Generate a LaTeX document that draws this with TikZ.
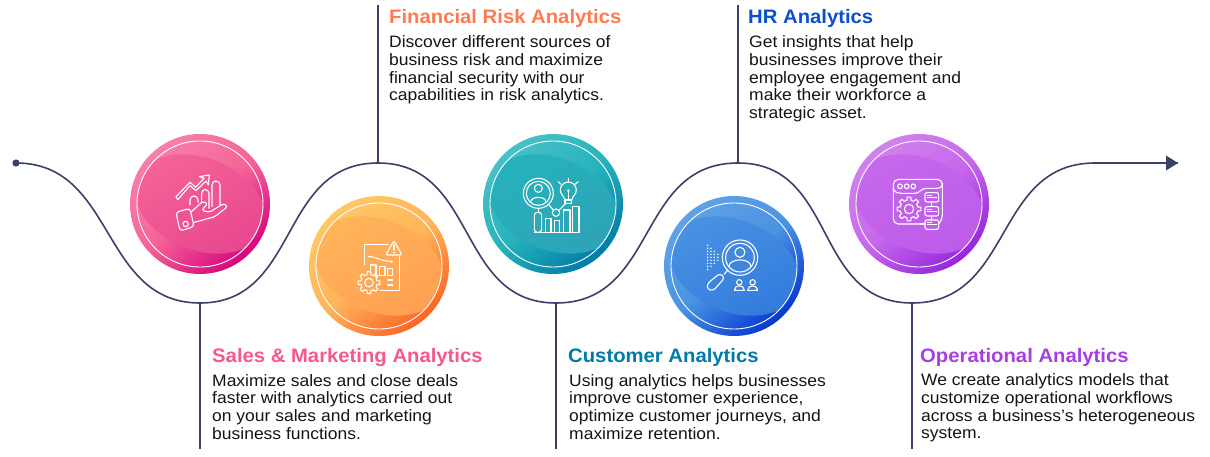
\documentclass[tikz,border=0pt]{standalone}
\usepackage{fontspec}
\setmainfont{Liberation Sans}[FakeStretch=1.06]
\newfontfamily\headfont{Liberation Sans}[FakeStretch=1.04]
\usetikzlibrary{arrows.meta}
\definecolor{linecol}{HTML}{3A4068}
\definecolor{bodycol}{HTML}{141414}
\definecolor{hsales}{HTML}{F4588E}
\definecolor{hfin}{HTML}{FF7A50}
\definecolor{hcust}{HTML}{007BA7}
\definecolor{hhr}{HTML}{0B4FD0}
\definecolor{hops}{HTML}{A83DE0}
\tikzset{
  wave/.style={draw=linecol,line width=1.6pt},
  stem/.style={draw=linecol,line width=1.6pt},
  icon/.style={draw=white,line width=1.1pt,line join=round,line cap=round},
  heading/.style={anchor=base west,inner sep=0pt,font=\headfont\fontsize{19.5}{22}\selectfont\bfseries},
  body/.style={anchor=north west,inner sep=0pt,align=left,text=bodycol,font=\fontsize{16.5}{17.6}\selectfont},
}
% \badge{name}{x}{y}{rim light}{rim dark}{lens light}{lens dark}
\newcommand{\badge}[7]{%
  \definecolor{bA}{HTML}{#4}\definecolor{bB}{HTML}{#5}\definecolor{bC}{HTML}{#6}\definecolor{bD}{HTML}{#7}%
  \node[circle,draw=none,minimum size=140pt,inner sep=0pt,top color=bA,bottom color=bB,middle color=bC,shading angle=40] (#1) at (#2,#3) {};
  \begin{scope}
    \clip (#2,#3) circle[radius=63pt];
    \path[top color=bC,bottom color=bD,shading angle=30,rotate around={-22:(#2,#3)}] (#2,#3) ellipse[x radius=68pt,y radius=46pt];
  \end{scope}
  \draw[white,line width=0.9pt] (#2,#3) circle[radius=63pt];
}
\newcommand{\gearshape}[5]{%
  \draw[icon] \foreach \k in {1,...,#5} {
    \ifnum\k=1 ([shift={(#1,#2)}]{360/#5*\k-13}:#3) \else -- ([shift={(#1,#2)}]{360/#5*\k-13}:#3) \fi
    -- ([shift={(#1,#2)}]{360/#5*\k-9}:#4) -- ([shift={(#1,#2)}]{360/#5*\k+9}:#4) -- ([shift={(#1,#2)}]{360/#5*\k+13}:#3)
  } -- cycle;
}
\begin{document}
\begin{tikzpicture}[x=1pt,y=-1pt]
\useasboundingbox (0,0) rectangle (1210,457);
% wave
\coordinate (start) at (16,163);
\coordinate (t1) at (200,303);
\coordinate (p1) at (378,163);
\coordinate (t2) at (556,303);
\coordinate (p2) at (738,163);
\coordinate (t3) at (912,303);
\coordinate (p3) at (1095,163);
\coordinate (thick) at (1150,163);
\coordinate (tip) at (1178,163);
\coordinate (b1) at (200,449);
\coordinate (b2) at (556,449);
\coordinate (b3) at (912,449);
\coordinate (a1) at (378,5);
\coordinate (a2) at (738,5);
\draw[wave] (start) .. controls +(100,0) and +(-100,0) .. (t1)
  .. controls +(100,0) and +(-100,0) .. (p1)
  .. controls +(100,0) and +(-100,0) .. (t2)
  .. controls +(102,0) and +(-102,0) .. (p2)
  .. controls +(100,0) and +(-100,0) .. (t3)
  .. controls +(102,0) and +(-102,0) .. (p3);
\draw[linecol,line width=2pt] (p3) -- (thick);
\draw[linecol,line width=1.2pt] (thick) -- (tip);
\fill[linecol] (1178,163) -- (1166,155.5) -- (1166,170.5) -- cycle;
\fill[linecol] (start) circle[radius=3.6pt];
\draw[stem] (t1) -- (b1);
\draw[stem] (t2) -- (b2);
\draw[stem] (t3) -- (b3);
\draw[stem] (p1) -- (a1);
\draw[stem] (p2) -- (a2);
% badges
\badge{pink}{200}{204}{F67FAB}{D6067E}{F56497}{E8488F}
\badge{orange}{379}{266}{FFC866}{FB6426}{FFB55A}{FFA052}
\badge{teal}{553}{204}{48C0C8}{007BA6}{25B3BC}{2EA3B8}
\badge{blue}{734}{266}{60A2E7}{0638D0}{4A92E2}{337CDD}
\badge{purple}{919}{204}{D083EB}{9526DC}{C768EC}{BC5CE9}
% icon 1
\begin{scope}[shift={(120,125)},x=.3333pt,y=-.3333pt]
  \draw[icon] (168,215) -- (210,172) -- (227,187) -- (252,160) -- (238,155) -- (268,150) -- (265,180) -- (258,168) -- (228,197) -- (210,182) -- (173,224) -- cycle;
  \draw[icon] (210,240) -- (210,225) arc[start angle=180,end angle=360,x radius=12,y radius=12] -- (234,232);
  \draw[icon] (245,232) -- (245,205) arc[start angle=180,end angle=360,x radius=11,y radius=11] -- (267,250);
  \draw[icon] (276,245) -- (276,180) arc[start angle=180,end angle=360,x radius=12,y radius=12] -- (300,240);
  \draw[icon,rounded corners=3pt] (168,262) -- (210,250) -- (222,305) -- (180,318) -- cycle;
  \draw[icon] (197,297) circle[radius=8];
  \draw[icon,rounded corners=2pt] (212,262) -- (250,228) -- (262,236) -- (246,256) -- (268,262) -- (312,235) -- (322,245) -- (285,275) -- (223,292);
  % icon 2
  \draw[icon] (733,420) -- (733,358) -- (805,358);
  \draw[icon] (838,395) -- (838,497) -- (780,497);
  \draw[icon,rounded corners=2pt] (822,347) -- (846,390) -- (797,390) -- cycle;
  \draw[icon,line width=1.5pt] (822,360) -- (822,375) (822,382) -- (822,383);
  \draw[icon] (745,395) .. controls (770,395) and (770,405) .. (815,410);
  \fill[white] (815,410) circle[radius=4];
  \draw[icon] (752,440) -- (752,420) -- (768,420) -- (768,455);
  \draw[icon] (778,425) rectangle (795,452);
  \draw[icon] (803,430) rectangle (818,452);
  \draw[icon] (803,465) -- (818,465) (803,480) -- (818,480);
  \gearshape{747}{473}{25}{33}{8}
  \draw[icon] (747,473) circle[radius=13];
\end{scope}
% icon 3, 4
\begin{scope}[shift={(475,125)},x=.3333pt,y=-.3333pt]
  \draw[icon] (190,205) circle[radius=45] (190,205) circle[radius=36];
  \draw[icon] (190,190) circle[radius=12];
  \draw[icon] (167,232) .. controls (167,212) and (213,212) .. (213,232);
  \draw[icon] (190,250) -- (190,262);
  \draw[icon,rounded corners=3pt] (178,262) rectangle (200,322);
  \draw[icon] (212,322) -- (212,280) -- (228,280) -- (228,322);
  \draw[icon] (238,322) -- (238,287) -- (254,287) -- (254,322);
  \draw[icon] (265,322) -- (265,255) -- (285,255) -- (285,322);
  \draw[icon] (292,322) -- (292,245) -- (312,245) -- (312,322) -- (178,322);
  \draw[icon] (243,263) circle[radius=11];
  \draw[icon] (222,240) -- (236,256) (252,256) -- (272,235);
  \draw[icon] (270,225) .. controls (265,210) and (256,208) .. (256,195) arc[start angle=180,end angle=360,radius=24] .. controls (304,208) and (295,210) .. (290,225) -- cycle;
  \draw[icon] (270,225) rectangle (290,235);
  \draw[icon] (280,225) -- (280,197);
  \fill[white] (280,197) circle[radius=4];
  \draw[icon] (250,170) -- (258,178) (280,160) -- (280,170) (310,170) -- (300,178);
  % icon 4
  \draw[icon] (795,398) circle[radius=53] (795,398) circle[radius=43];
  \draw[icon] (795,382) circle[radius=15];
  \draw[icon] (762,425) .. controls (762,398) and (828,398) .. (828,425);
  \draw[icon] (758,436) -- (747,448);
  \draw[icon,rounded corners=3pt] (735,445) -- (749,459) -- (715,497) -- (697,493) -- (697,476) -- cycle;
  \foreach \xx/\nn in {698/4,708/3,718/2,729/1}{
    \foreach \i in {-\nn,...,\nn}{
      \fill[white] (\xx,{397+\i*9}) circle[radius=2.5];
    }
  }
  \foreach \xx in {793,833}{
    \draw[icon] (\xx,472) circle[radius=8];
    \draw[icon] ({\xx-15},496) .. controls ({\xx-15},478) and ({\xx+15},478) .. ({\xx+15},496) -- cycle;
  }
\end{scope}
% icon 5
\begin{scope}[shift={(840,125)},x=.3333pt,y=-.3333pt]
  \draw[icon,rounded corners=5pt] (240,297) -- (160,297) -- (160,163) -- (307,163) -- (307,285) -- (296,297);
  \draw[icon] (160,190) .. controls (165,205) and (175,205) .. (185,205) -- (225,205) .. controls (240,205) and (240,190) .. (260,190) -- (290,190) .. controls (302,190) and (307,185) .. (307,175);
  \draw[icon] (180,184) circle[radius=7] (200,184) circle[radius=7] (220,184) circle[radius=7];
  \gearshape{207}{252}{27}{36}{8}
  \draw[icon] (207,252) circle[radius=14];
  \foreach \yy in {203,245,285}{
    \draw[icon,rounded corners=2pt] (255,\yy) rectangle (296,{\yy+28});
    \draw[icon] (262,{\yy+8}) -- (275,{\yy+8}) (262,{\yy+14}) -- (290,{\yy+14});
  }
  \draw[icon] (275,231) -- (275,245) (275,273) -- (275,285) (240,297) -- (255,297);
\end{scope}
% text
\node[heading,text=hsales] (h1) at (212,362.5) {Sales \& Marketing Analytics};
\node[body] (t1a) at (212,374.2) {Maximize sales and close deals\\faster with analytics carried out\\on your sales and marketing\\business functions.};
\node[heading,text=hfin] (h2) at (389,24) {Financial Risk Analytics};
\node[body] (t2a) at (389,35.7) {Discover different sources of\\business risk and maximize\\financial security with our\\capabilities in risk analytics.};
\node[heading,text=hcust] (h3) at (568,362.5) {Customer Analytics};
\node[body] (t3a) at (569,374.2) {Using analytics helps businesses\\improve customer experience,\\optimize customer journeys, and\\maximize retention.};
\node[heading,text=hhr] (h4) at (748,24) {HR Analytics};
\node[body] (t4a) at (749,35.7) {Get insights that help\\businesses improve their\\employee engagement and\\make their workforce a\\strategic asset.};
\node[heading,text=hops] (h5) at (920,362) {Operational Analytics};
\node[body] (t5a) at (921,373.7) {We create analytics models that\\customize operational workflows\\across a business’s heterogeneous\\system.};
\end{tikzpicture}
\end{document}
